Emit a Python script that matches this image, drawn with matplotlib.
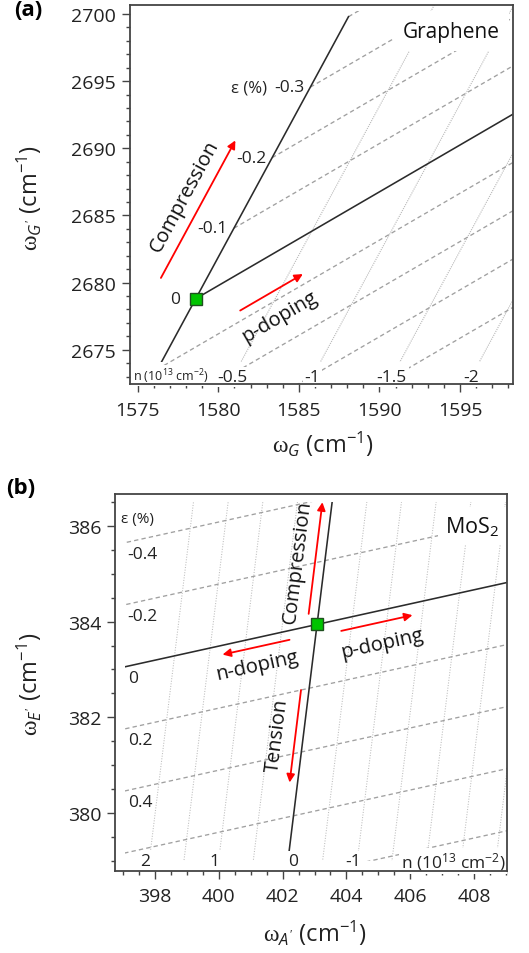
import numpy as np
import matplotlib
matplotlib.use('Agg')
import matplotlib.pyplot as plt
from matplotlib.patches import Rectangle
from matplotlib.ticker import MultipleLocator

plt.rcParams['font.family'] = ['Open Sans', 'DejaVu Sans']
plt.rcParams['mathtext.fontset'] = 'custom'
plt.rcParams['mathtext.rm'] = 'Liberation Serif'
plt.rcParams['mathtext.it'] = 'Open Sans:italic'
plt.rcParams['mathtext.sf'] = 'Open Sans'
plt.rcParams['mathtext.bf'] = 'Open Sans:bold'

# ---------------- data: graphene (a) ----------------
gr_origin = (1578.6, 2678.8)          # (omega_G, omega_G') unstrained, undoped
gr_strain_coef = (-23.7, -52.5)       # shift per 1 % strain
gr_doping_coef = (-14.4, -10.05)      # shift per 1e13 cm^-2
gr_strain_levels = [-0.4, -0.3, -0.2, -0.1, 0.1, 0.2, 0.3, 0.4]
gr_strain_labeled = [0.0, -0.1, -0.2, -0.3]
gr_strain_labels = ['0', '-0.1', '-0.2', '-0.3']
gr_doping_levels = [-0.5, -1.0, -1.5, -2.0]
gr_doping_labels = ['-0.5', '-1', '-1.5', '-2']
gr_compression_arrow = {'n': 0.29, 'eps': (-0.085, -0.28)}
gr_pdoping_arrow = {'eps': 0.078, 'n': (-0.32, -0.59)}

# ---------------- data: MoS2 (b) ----------------
mo_origin = (403.08, 383.94)          # (omega_A', omega_E')
mo_strain_coef = (-1.232, -6.654)
mo_doping_coef = (-2.234, -0.328)
mo_strain_levels = [-0.4, -0.2, 0.2, 0.4, 0.6, 0.8]
mo_strain_labeled = [-0.4, -0.2, 0.0, 0.2, 0.4]
mo_strain_labels = ['-0.4', '-0.2', '0', '0.2', '0.4']
mo_doping_levels = [2.0, 1.5, 1.0, 0.5, -0.5, -1.0, -1.5, -2.0, -2.5, -3.0]
mo_doping_labeled = [2.0, 1.0, 0.0, -1.0]
mo_doping_labels = ['2', '1', '0', '-1']
mo_compression_arrow = {'n': 0.14, 'eps': (-0.04, -0.39)}
mo_tension_arrow = {'n': 0.115, 'eps': (0.20, 0.49)}
mo_pdoping_arrow = {'eps': 0.038, 'n': (-0.36, -1.36)}
mo_ndoping_arrow = {'eps': 0.03, 'n': (0.37, 1.31)}


def model(origin, sc, dc, eps, n):
    eps = np.asarray(eps, float)
    n = np.asarray(n, float)
    return origin[0] + sc[0] * eps + dc[0] * n, origin[1] + sc[1] * eps + dc[1] * n


W, H = 529, 954
fig = plt.figure(figsize=(W / 100, H / 100), dpi=100)


def px_axes(l, t, r, b):
    return [l / W, 1 - b / H, (r - l) / W, (b - t) / H]


ax1 = fig.add_axes(px_axes(130, 6, 513, 385))
ax2 = fig.add_axes(px_axes(115, 495, 507, 871.7))

SOLID = dict(color='#2b2b2b', lw=1.15, zorder=2)
DASH = dict(color='#a0a0a0', lw=0.95, ls=(0, (3.3, 2.4)), zorder=1.5)
DOT = dict(color='#b8b8b8', lw=0.8, ls=(0, (1, 1)), zorder=1.4)
RED = dict(arrowstyle='-|>', color='red', lw=1.3, mutation_scale=12, shrinkA=0, shrinkB=0)


def style(ax, xlim, ylim, xmaj, xmin, ymaj, ymin):
    ax.set_xlim(xlim)
    ax.set_ylim(ylim)
    ax.xaxis.set_major_locator(MultipleLocator(xmaj))
    ax.xaxis.set_minor_locator(MultipleLocator(xmin))
    ax.yaxis.set_major_locator(MultipleLocator(ymaj))
    ax.yaxis.set_minor_locator(MultipleLocator(ymin))
    ax.tick_params(which='both', direction='out', top=False, right=False,
                   color='#444444', width=1.0, labelsize=14, labelcolor='#222222')
    ax.tick_params(which='major', length=6)
    ax.tick_params(which='minor', length=3)
    ax.tick_params(axis='x', which='major', pad=6)
    ax.tick_params(axis='y', which='major', pad=4)
    for s in ax.spines.values():
        s.set_color('#444444')
        s.set_linewidth(1.3)


def clip_rect(ax, x0, x1, y0, y1):
    return Rectangle((x0, y0), x1 - x0, y1 - y0, transform=ax.transData)


def angle(ax, vec, at):
    p0 = ax.transData.transform(at)
    p1 = ax.transData.transform((at[0] + vec[0], at[1] + vec[1]))
    return np.degrees(np.arctan2(p1[1] - p0[1], p1[0] - p0[0]))


def arrow(ax, origin, sc, dc, eps0, n0, eps1, n1):
    x0, y0 = model(origin, sc, dc, eps0, n0)
    x1, y1 = model(origin, sc, dc, eps1, n1)
    ax.annotate('', xy=(x1, y1), xytext=(x0, y0), arrowprops=RED, zorder=3)


# ======================= panel (a) =======================
xl1, yl1 = (1574.52, 1598.29), (2672.45, 2700.67)
style(ax1, xl1, yl1, 5, 1, 5, 1)
clip_a_dot = clip_rect(ax1, xl1[0], xl1[1], 2674.1, yl1[1])
clip_a_dash = clip_rect(ax1, xl1[0], xl1[1], yl1[0], 2700.2)

for e in gr_strain_levels:
    x, y = model(gr_origin, gr_strain_coef, gr_doping_coef, [e, e], [0, -2.6])
    ln, = ax1.plot(x, y, **DASH)
    ln.set_clip_path(clip_a_dash)
for nv in gr_doping_levels:
    x, y = model(gr_origin, gr_strain_coef, gr_doping_coef, [-0.6, 0.5], [nv, nv])
    ln, = ax1.plot(x, y, **DOT)
    ln.set_clip_path(clip_a_dot)
x, y = model(gr_origin, gr_strain_coef, gr_doping_coef, [-0.4, 0.5], [0, 0])
ln, = ax1.plot(x, y, **SOLID)
ln.set_clip_path(clip_a_dot)
x, y = model(gr_origin, gr_strain_coef, gr_doping_coef, [0, 0], [0, -2.6])
ax1.plot(x, y, **SOLID)
ax1.plot(*gr_origin, 's', ms=8, mfc='#00c400', mec='#1f4f1f', mew=1.0, zorder=5)

for e, lab in zip(gr_strain_labeled, gr_strain_labels):
    xy = model(gr_origin, gr_strain_coef, gr_doping_coef, e, 0)
    off = -11.5 if e == 0 else -4.3
    ax1.annotate(lab, xy=xy, xytext=(off, 0), textcoords='offset points',
                 ha='right', va='center', fontsize=12.5, color='#222222')
xy = model(gr_origin, gr_strain_coef, gr_doping_coef, -0.3, 0)
ax1.annotate('ε (%)', xy=xy, xytext=(-31, 0), textcoords='offset points',
             ha='right', va='center', fontsize=12, color='#222222')

y_lab = 2672.97
for nv, lab in zip(gr_doping_levels, gr_doping_labels):
    e = (y_lab - gr_origin[1] - gr_doping_coef[1] * nv) / gr_strain_coef[1]
    xx, yy = model(gr_origin, gr_strain_coef, gr_doping_coef, e, nv)
    ax1.text(xx, yy, lab, ha='center', va='center', fontsize=12.5, color='#222222',
             zorder=2.2, bbox=dict(boxstyle='square,pad=0.1', fc='white', ec='none'))
ax1.text(0.008, 0.022, r'n (10$^{\mathsf{13}}$ cm$^{\mathsf{-2}}$)', transform=ax1.transAxes,
         ha='left', va='center', fontsize=9, color='#222222', zorder=2.2,
         bbox=dict(boxstyle='square,pad=0.1', fc='white', ec='none'))

ax1.text(1594.44, 2698.73, 'Graphene', ha='center', va='center', fontsize=15, color='#111111',
         zorder=2.2, bbox=dict(boxstyle='square,pad=0.45', fc='white', ec='none'))

arrow(ax1, gr_origin, gr_strain_coef, gr_doping_coef,
      gr_compression_arrow['eps'][0], gr_compression_arrow['n'],
      gr_compression_arrow['eps'][1], gr_compression_arrow['n'])
arrow(ax1, gr_origin, gr_strain_coef, gr_doping_coef,
      gr_pdoping_arrow['eps'], gr_pdoping_arrow['n'][0],
      gr_pdoping_arrow['eps'], gr_pdoping_arrow['n'][1])
rot_s = angle(ax1, (-gr_strain_coef[0], -gr_strain_coef[1]), gr_origin)
rot_d = angle(ax1, (-gr_doping_coef[0], -gr_doping_coef[1]), gr_origin)
ax1.text(1577.9, 2686.5, 'Compression', rotation=rot_s, rotation_mode='anchor',
         ha='center', va='center', fontsize=14.5, color='#111111')
ax1.text(1583.77, 2677.5, 'p-doping', rotation=rot_d, rotation_mode='anchor',
         ha='center', va='center', fontsize=14.5, color='#111111')

ax1.set_xlabel(r'$\mathrm{\omega}_{\mathit{G}}$ (cm$^{\mathsf{-1}}$)', fontsize=17, color='#222222')
ax1.set_ylabel(r"$\mathrm{\omega}_{\mathit{G'}}$ (cm$^{\mathsf{-1}}$)", fontsize=17, color='#222222')
ax1.xaxis.set_label_coords(0.503, -0.118)
ax1.yaxis.set_label_coords(-0.225, 0.493)

# ======================= panel (b) =======================
xl2, yl2 = (396.746, 409.034), (378.802, 386.661)
style(ax2, xl2, yl2, 2, 0.5, 2, 0.5)
clip_b = clip_rect(ax2, 397.05, xl2[1], 379.0, 386.5)

for e in mo_strain_levels:
    x, y = model(mo_origin, mo_strain_coef, mo_doping_coef, [e, e], [3.2, -3.6])
    ln, = ax2.plot(x, y, **DASH)
    ln.set_clip_path(clip_b)
for nv in mo_doping_levels:
    x, y = model(mo_origin, mo_strain_coef, mo_doping_coef, [-0.7, 1.0], [nv, nv])
    ln, = ax2.plot(x, y, color='#bcbcbc', lw=0.75, ls=(0, (1, 1.5)), zorder=1.4)
    ln.set_clip_path(clip_b)
x, y = model(mo_origin, mo_strain_coef, mo_doping_coef, [-0.7, 1.0], [0, 0])
ln, = ax2.plot(x, y, **SOLID)
ln.set_clip_path(clip_b)
x, y = model(mo_origin, mo_strain_coef, mo_doping_coef, [0, 0], [3.2, -3.6])
ln, = ax2.plot(x, y, **SOLID)
ln.set_clip_path(clip_b)
ax2.plot(*mo_origin, 's', ms=8, mfc='#00c400', mec='#1f4f1f', mew=1.0, zorder=5)

x_left = 397.1
for e, lab in zip(mo_strain_labeled, mo_strain_labels):
    x0, y0 = model(mo_origin, mo_strain_coef, mo_doping_coef, e, 0)
    yl = y0 + (x_left - x0) * mo_doping_coef[1] / mo_doping_coef[0]
    ax2.annotate(lab, xy=(x_left, yl), xytext=(1, -8), textcoords='offset points',
                 ha='left', va='center', fontsize=12.5, color='#222222')
ax2.text(0.015, 0.934, 'ε (%)', transform=ax2.transAxes, ha='left', va='center',
         fontsize=11, color='#222222')

y_bot = 379.0
for nv, lab in zip(mo_doping_labeled, mo_doping_labels):
    e = (y_bot - mo_origin[1] - mo_doping_coef[1] * nv) / mo_strain_coef[1]
    xx, yy = model(mo_origin, mo_strain_coef, mo_doping_coef, e, nv)
    off = 4 if nv == 0 else -3
    ax2.annotate(lab, xy=(xx, yy), xytext=(off, 0), textcoords='offset points',
                 ha='center', va='center', fontsize=12.5, color='#222222', zorder=2.2,
                 bbox=dict(boxstyle='square,pad=0.1', fc='white', ec='none'))
ax2.text(0.996, 0.026, r'n (10$^{\mathsf{13}}$ cm$^{\mathsf{-2}}$)', transform=ax2.transAxes,
         ha='right', va='center', fontsize=12.5, color='#222222', zorder=2.2,
         bbox=dict(boxstyle='square,pad=0.1', fc='white', ec='none'))

ax2.text(407.95, 385.99, r'MoS$_{\mathsf{2}}$', ha='center', va='center', fontsize=15.5,
         color='#111111', zorder=2.2,
         bbox=dict(boxstyle='square,pad=0.34', fc='white', ec='none'))

arrow(ax2, mo_origin, mo_strain_coef, mo_doping_coef,
      mo_compression_arrow['eps'][0], mo_compression_arrow['n'],
      mo_compression_arrow['eps'][1], mo_compression_arrow['n'])
arrow(ax2, mo_origin, mo_strain_coef, mo_doping_coef,
      mo_tension_arrow['eps'][0], mo_tension_arrow['n'],
      mo_tension_arrow['eps'][1], mo_tension_arrow['n'])
arrow(ax2, mo_origin, mo_strain_coef, mo_doping_coef,
      mo_pdoping_arrow['eps'], mo_pdoping_arrow['n'][0],
      mo_pdoping_arrow['eps'], mo_pdoping_arrow['n'][1])
arrow(ax2, mo_origin, mo_strain_coef, mo_doping_coef,
      mo_ndoping_arrow['eps'], mo_ndoping_arrow['n'][0],
      mo_ndoping_arrow['eps'], mo_ndoping_arrow['n'][1])
rot_s2 = angle(ax2, (-mo_strain_coef[0], -mo_strain_coef[1]), mo_origin)
rot_d2 = angle(ax2, (-mo_doping_coef[0], -mo_doping_coef[1]), mo_origin)
ax2.text(402.47, 385.27, 'Compression', rotation=rot_s2, rotation_mode='anchor',
         ha='center', va='center', fontsize=14.5, color='#111111')
ax2.text(401.84, 381.64, 'Tension', rotation=rot_s2, rotation_mode='anchor',
         ha='center', va='center', fontsize=14.5, color='#111111')
ax2.text(405.13, 383.54, 'p-doping', rotation=rot_d2, rotation_mode='anchor',
         ha='center', va='center', fontsize=14.5, color='#111111')
ax2.text(401.19, 383.08, 'n-doping', rotation=rot_d2, rotation_mode='anchor',
         ha='center', va='center', fontsize=14.5, color='#111111')

ax2.set_xlabel(r"$\mathrm{\omega}_{\mathit{A'}}$ (cm$^{\mathsf{-1}}$)", fontsize=17, color='#222222')
ax2.set_ylabel(r"$\mathrm{\omega}_{\mathit{E'}}$ (cm$^{\mathsf{-1}}$)", fontsize=17, color='#222222')
ax2.xaxis.set_label_coords(0.51, -0.125)
ax2.yaxis.set_label_coords(-0.18, 0.496)

fig.text(14 / W, 1 - 0 / H, '(a)', ha='left', va='top', fontsize=16, fontweight='bold')
fig.text(6 / W, 1 - 478 / H, '(b)', ha='left', va='top', fontsize=16, fontweight='bold')

fig.savefig('out.png', dpi=100)
